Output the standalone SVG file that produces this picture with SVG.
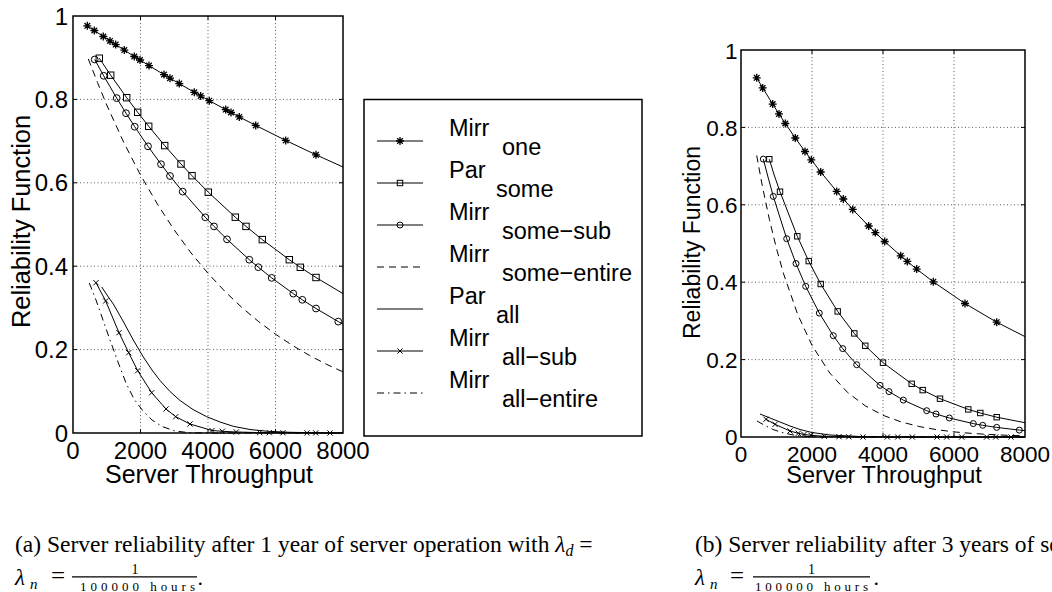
<svg xmlns="http://www.w3.org/2000/svg" width="1052" height="592" viewBox="0 0 1052 592">
<style>
.ln{fill:none;stroke:#000;stroke-width:1}
.dash{stroke-dasharray:7 5}
.dd{stroke-dasharray:7 4 1.5 4}
.grid{stroke:#333;stroke-width:0.8;stroke-dasharray:1 2.5;fill:none}
.box{fill:none;stroke:#000;stroke-width:1.5}
.tk{stroke:#000;stroke-width:1}
.t{font-family:"Liberation Sans",Arial,sans-serif;fill:#000}
.s{font-family:"Liberation Serif","Times New Roman",serif;fill:#000}
</style>
<defs>
<path id="mS" d="M-4,0H4M0,-4V4M-2.8,-2.8L2.8,2.8M-2.8,2.8L2.8,-2.8" fill="none" stroke="#000" stroke-width="1.3"/>
<rect id="mQ" x="-3.2" y="-3.2" width="6.4" height="6.4" fill="none" stroke="#000" stroke-width="1"/>
<circle id="mO" r="3.4" fill="none" stroke="#000" stroke-width="1"/>
<path id="mX" d="M-2.6,-2.6L2.6,2.6M-2.6,2.6L2.6,-2.6" fill="none" stroke="#000" stroke-width="1"/>
<rect id="mQs" x="-2.7" y="-2.7" width="5.4" height="5.4" fill="none" stroke="#000" stroke-width="1"/>
<circle id="mOs" r="3" fill="none" stroke="#000" stroke-width="1"/>
</defs>
<rect width="1052" height="592" fill="#fff"/>

<!-- ===== Plot (a) axes ===== -->
<g id="axes-a">
<path class="grid" d="M140.5,16V433M208,16V433M275.5,16V433M73,349.6H343M73,266.2H343M73,182.8H343M73,99.4H343"/>
<rect class="box" x="73" y="16" width="270" height="417"/>
<path class="tk" d="M140.5,433v-4M208,433v-4M275.5,433v-4M140.5,16v4M208,16v4M275.5,16v4M73,349.6h4M73,266.2h4M73,182.8h4M73,99.4h4M343,349.6h-4M343,266.2h-4M343,182.8h-4M343,99.4h-4"/>
<g class="t" font-size="24" text-anchor="end">
<text x="68" y="24.5">1</text>
<text x="68" y="107.9">0.8</text>
<text x="68" y="191.3">0.6</text>
<text x="68" y="274.7">0.4</text>
<text x="68" y="358.1">0.2</text>
<text x="68" y="441.5">0</text>
</g>
<g class="t" font-size="24" text-anchor="middle">
<text x="73" y="459">0</text>
<text x="140.5" y="459">2000</text>
<text x="208" y="459">4000</text>
<text x="275.5" y="459">6000</text>
<text x="343" y="459">8000</text>
<text x="209" y="483" font-size="25">Server Throughput</text>
<text transform="translate(30,221.5) rotate(-90)" x="0" y="0" font-size="25.4">Reliability Function</text>
</g>
</g>

<!-- ===== Plot (a) curves ===== -->
<g id="curves-a">
<polyline id="a-mirr-one" class="ln" points="87.3,25.8 94.3,30.5 103.3,36.5 110,40.9 115.7,44.6 124.3,50.1 134.3,56.5 140,60 149,65.6 164,74.6 170,78.2 179.3,83.6 194.3,92.3 200.7,95.9 209.3,100.7 225.7,109.6 231,112.5 239.3,116.9 255.7,125.4 285.7,140.4 316,154.8 343,167"/>
<g>
<use href="#mS" x="87.3" y="25.8"/><use href="#mS" x="94.3" y="30.5"/><use href="#mS" x="103.3" y="36.5"/><use href="#mS" x="110" y="40.9"/><use href="#mS" x="115.7" y="44.6"/><use href="#mS" x="124.3" y="50.1"/><use href="#mS" x="134.3" y="56.5"/><use href="#mS" x="140" y="60"/><use href="#mS" x="149" y="65.6"/><use href="#mS" x="164" y="74.6"/><use href="#mS" x="170" y="78.2"/><use href="#mS" x="179.3" y="83.6"/><use href="#mS" x="194.3" y="92.3"/><use href="#mS" x="200.7" y="95.9"/><use href="#mS" x="209.3" y="100.7"/><use href="#mS" x="225.7" y="109.6"/><use href="#mS" x="231" y="112.5"/><use href="#mS" x="239.3" y="116.9"/><use href="#mS" x="255.7" y="125.4"/><use href="#mS" x="285.7" y="140.4"/><use href="#mS" x="316" y="154.8"/>
</g>
<polyline id="a-par-some" class="ln" points="99.3,58.2 110.7,75.2 126.7,97.7 137.7,112.3 148.7,126.3 164.7,145.6 181,164 192,175.7 208.3,192.2 235.3,217.2 246,226.4 262.3,239.6 289.3,259.7 300.3,267.3 316,277.5 343,293.6"/>
<g>
<use href="#mQ" x="99.3" y="58.2"/><use href="#mQ" x="110.7" y="75.2"/><use href="#mQ" x="126.7" y="97.7"/><use href="#mQ" x="137.7" y="112.3"/><use href="#mQ" x="148.7" y="126.3"/><use href="#mQ" x="164.7" y="145.6"/><use href="#mQ" x="181" y="164"/><use href="#mQ" x="192" y="175.7"/><use href="#mQ" x="208.3" y="192.2"/><use href="#mQ" x="235.3" y="217.2"/><use href="#mQ" x="246" y="226.4"/><use href="#mQ" x="262.3" y="239.6"/><use href="#mQ" x="289.3" y="259.7"/><use href="#mQ" x="300.3" y="267.3"/><use href="#mQ" x="316" y="277.5"/>
</g>
<polyline id="a-mirr-some-sub" class="ln" points="94.7,59.5 103.7,75.8 116.7,98.1 126,113.2 134.7,126.7 148,146.3 161,164.2 170,176 182.7,191.6 205.3,217.3 214,226.4 227,239.3 249.3,259.7 258.3,267.2 271.7,277.9 293.3,293.6 302.3,299.8 316,308.5 338.3,321.6 343,324.1"/>
<g>
<use href="#mO" x="94.7" y="59.5"/><use href="#mO" x="103.7" y="75.8"/><use href="#mO" x="116.7" y="98.1"/><use href="#mO" x="126" y="113.2"/><use href="#mO" x="134.7" y="126.7"/><use href="#mO" x="148" y="146.3"/><use href="#mO" x="161" y="164.2"/><use href="#mO" x="170" y="176"/><use href="#mO" x="182.7" y="191.6"/><use href="#mO" x="205.3" y="217.3"/><use href="#mO" x="214" y="226.4"/><use href="#mO" x="227" y="239.3"/><use href="#mO" x="249.3" y="259.7"/><use href="#mO" x="258.3" y="267.2"/><use href="#mO" x="271.7" y="277.9"/><use href="#mO" x="293.3" y="293.6"/><use href="#mO" x="302.3" y="299.8"/><use href="#mO" x="316" y="308.5"/><use href="#mO" x="338.3" y="321.6"/>
</g>
<polyline id="a-mirr-some-entire" class="ln dash" points="88.3,58.9 97.5,82.5 106.75,105 123.6,142.1 140.5,175 157.4,204.1 174.25,230 191.1,253 208,273.3 224.9,291.4 241.75,307.4 258.6,321.6 275.5,334.2 292.4,345.4 309.25,355.3 326.1,364.1 343,371.9"/>
<polyline id="a-par-all" class="ln" points="101.7,287 107,295 113.3,304 123,321 133.3,340 143.3,357 152,370 160,380.5 170,391.5 180,400.5 193,409.5 206.7,416.7 220,422 233.3,426.3 250,429.5 266.7,431.2 290,432.3 320,432.8 343,433"/>
<polyline id="a-mirr-all-sub" class="ln" points="96,282.7 105.7,301 119,332.7 128.7,352.7 137.7,370.7 151.7,392.7 166,409 175.7,416.7 190,424 212,430.5 222.3,431.3 236.3,432 259.7,432.6 269.3,432.7 283,432.8 307,432.9 315.7,432.9 330,433 343,433"/>
<g>
<use href="#mX" x="96" y="282.7"/><use href="#mX" x="105.7" y="301"/><use href="#mX" x="119" y="332.7"/><use href="#mX" x="128.7" y="352.7"/><use href="#mX" x="137.7" y="370.7"/><use href="#mX" x="151.7" y="392.7"/><use href="#mX" x="166" y="409"/><use href="#mX" x="175.7" y="416.7"/><use href="#mX" x="190" y="424"/><use href="#mX" x="212" y="430.5"/><use href="#mX" x="222.3" y="431.3"/><use href="#mX" x="236.3" y="432"/><use href="#mX" x="259.7" y="432.6"/><use href="#mX" x="269.3" y="432.7"/><use href="#mX" x="283" y="432.8"/><use href="#mX" x="307" y="432.9"/><use href="#mX" x="315.7" y="432.9"/><use href="#mX" x="330" y="433"/>
</g>
<polyline id="a-mirr-all-entire" class="ln dd" points="89.3,283 96,300 103,320 110,340 118,362 126,383 134,399 143,411 152,420 162,426.5 175,431 190,432.8 210,433 343,433"/>
</g>

<!-- ===== Legend ===== -->
<g id="legend">
<rect x="364" y="99.5" width="278" height="336.5" fill="#fff" stroke="#000" stroke-width="1.5"/>
<g>
<path class="ln" d="M377,141H423M377,183H423M377,225H423M377,309H423M377,351H423"/>
<path class="ln dash" d="M377,267H423"/>
<path class="ln dd" d="M377,393H423"/>
<use href="#mS" x="400" y="141"/>
<use href="#mQs" x="400" y="183"/>
<use href="#mOs" x="400" y="225"/>
<use href="#mX" x="400" y="351"/>
</g>
<g class="t" font-size="23.5">
<text x="449" y="135.7">Mirr</text>
<text x="502" y="155.3">one</text>
<text x="449" y="177.7">Par</text>
<text x="496" y="197.3">some</text>
<text x="449" y="219.7">Mirr</text>
<text x="502" y="239.3">some−sub</text>
<text x="449" y="261.7">Mirr</text>
<text x="502" y="281.3">some−entire</text>
<text x="449" y="303.7">Par</text>
<text x="496" y="323.3">all</text>
<text x="449" y="345.7">Mirr</text>
<text x="502" y="365.3">all−sub</text>
<text x="449" y="387.7">Mirr</text>
<text x="502" y="407.3">all−entire</text>
</g>
</g>

<!-- ===== Plot (b) axes ===== -->
<g id="axes-b">
<path class="grid" d="M812,50V437M883,50V437M954,50V437M741,359.6H1025M741,282.2H1025M741,204.8H1025M741,127.4H1025"/>
<rect class="box" x="741" y="50" width="284" height="387"/>
<path class="tk" d="M812,437v-4M883,437v-4M954,437v-4M812,50v4M883,50v4M954,50v4M741,359.6h4M741,282.2h4M741,204.8h4M741,127.4h4M1025,359.6h-4M1025,282.2h-4M1025,204.8h-4M1025,127.4h-4"/>
<g class="t" font-size="22.5" text-anchor="end">
<text x="737.5" y="58.5">1</text>
<text x="737.5" y="135.6">0.8</text>
<text x="737.5" y="213">0.6</text>
<text x="737.5" y="290.4">0.4</text>
<text x="737.5" y="367.8">0.2</text>
<text x="737.5" y="444.5">0</text>
</g>
<g class="t" font-size="22.5" text-anchor="middle">
<text x="741" y="462">0</text>
<text x="812" y="462">2000</text>
<text x="883" y="462">4000</text>
<text x="954" y="462">6000</text>
<text x="1025" y="462">8000</text>
<text x="884" y="482.5" font-size="23.5">Server Throughput</text>
<text transform="translate(700,242.5) rotate(-90)" x="0" y="0" font-size="23">Reliability Function</text>
</g>
</g>

<!-- ===== Plot (b) curves ===== -->
<g id="curves-b">
<polyline id="b-mirr-one" class="ln" points="756.7,77.8 762.7,87.9 772.7,104.1 779,113.9 785.3,123.5 795.3,138 805,151.5 811.3,159.9 820.7,172 836.7,191.4 843.3,199 852.7,209.4 868.7,226 875.3,232.6 884.7,241.5 900.7,255.8 907.3,261.4 916.7,269.1 933.3,281.8 965,303.5 996.7,322.2 1025,336.6"/>
<g>
<use href="#mS" x="756.7" y="77.8"/><use href="#mS" x="762.7" y="87.9"/><use href="#mS" x="772.7" y="104.1"/><use href="#mS" x="779" y="113.9"/><use href="#mS" x="785.3" y="123.5"/><use href="#mS" x="795.3" y="138"/><use href="#mS" x="805" y="151.5"/><use href="#mS" x="811.3" y="159.9"/><use href="#mS" x="820.7" y="172"/><use href="#mS" x="836.7" y="191.4"/><use href="#mS" x="843.3" y="199"/><use href="#mS" x="852.7" y="209.4"/><use href="#mS" x="868.7" y="226"/><use href="#mS" x="875.3" y="232.6"/><use href="#mS" x="884.7" y="241.5"/><use href="#mS" x="900.7" y="255.8"/><use href="#mS" x="907.3" y="261.4"/><use href="#mS" x="916.7" y="269.1"/><use href="#mS" x="933.3" y="281.8"/><use href="#mS" x="965" y="303.5"/><use href="#mS" x="996.7" y="322.2"/>
</g>
<polyline id="b-par-some" class="ln" points="769.3,159.2 774.5,176 780,191.7 797.3,236.3 808.7,261.1 820.7,284 837.7,311.4 854.3,333.4 865.3,345.8 883,362.7 911.7,383.8 922.7,390.1 940,398.7 968.3,409.4 980.3,413 996.7,417.2 1025,422.7"/>
<g>
<use href="#mQs" x="769.3" y="159.2"/><use href="#mQs" x="780" y="191.7"/><use href="#mQs" x="797.3" y="236.3"/><use href="#mQs" x="808.7" y="261.1"/><use href="#mQs" x="820.7" y="284"/><use href="#mQs" x="837.7" y="311.4"/><use href="#mQs" x="854.3" y="333.4"/><use href="#mQs" x="865.3" y="345.8"/><use href="#mQs" x="883" y="362.7"/><use href="#mQs" x="911.7" y="383.8"/><use href="#mQs" x="922.7" y="390.1"/><use href="#mQs" x="940" y="398.7"/><use href="#mQs" x="968.3" y="409.4"/><use href="#mQs" x="980.3" y="413"/><use href="#mQs" x="996.7" y="417.2"/>
</g>
<polyline id="b-mirr-some-sub" class="ln" points="763.3,159.1 768,177 773.3,196.4 786.7,238.7 796,263.5 805.7,286.3 819.3,313.1 833.3,335.7 842.7,348.6 856.7,364.7 880,385.4 889,391.6 903.3,400.1 926.7,410.7 936,414 949.3,418 973.3,423.6 982.7,425.3 996.7,427.4 1019.3,430.1 1025,430.6"/>
<g>
<use href="#mOs" x="763.3" y="159.1"/><use href="#mOs" x="773.3" y="196.4"/><use href="#mOs" x="786.7" y="238.7"/><use href="#mOs" x="796" y="263.5"/><use href="#mOs" x="805.7" y="286.3"/><use href="#mOs" x="819.3" y="313.1"/><use href="#mOs" x="833.3" y="335.7"/><use href="#mOs" x="842.7" y="348.6"/><use href="#mOs" x="856.7" y="364.7"/><use href="#mOs" x="880" y="385.4"/><use href="#mOs" x="889" y="391.6"/><use href="#mOs" x="903.3" y="400.1"/><use href="#mOs" x="926.7" y="410.7"/><use href="#mOs" x="936" y="414"/><use href="#mOs" x="949.3" y="418"/><use href="#mOs" x="973.3" y="423.6"/><use href="#mOs" x="982.7" y="425.3"/><use href="#mOs" x="996.7" y="427.4"/><use href="#mOs" x="1019.3" y="430.1"/>
</g>
<polyline id="b-mirr-some-entire" class="ln dash" points="756.7,155.5 762.3,185.8 769.4,219.5 776.5,248.6 783.6,273.9 797.8,314.7 812,345.3 829.75,373 847.5,392.4 865.25,405.8 883,415.3 900.75,421.8 918.5,426.4 936.25,429.6 954,431.9 971.75,433.4 989.5,434.5 1007.25,435.3 1025,435.8"/>
<polyline id="b-par-all" class="ln" points="760,414 770,418 780,422 790,426 800,429.5 812,432.5 830,435 860,436.5 900,437 1025,437"/>
<polyline id="b-mirr-all-sub" class="ln" points="766,419.3 775,424.3 790,431 798.3,433.3 804,434.5 811,435.3 824.3,436.3 839,436.7 848.7,436.8 863,437 1025,437"/>
<g>
<use href="#mX" x="766" y="419.3"/><use href="#mX" x="775" y="424.3"/><use href="#mX" x="790" y="431"/><use href="#mX" x="798.3" y="433.3"/><use href="#mX" x="804" y="434.5"/><use href="#mX" x="811" y="435.3"/><use href="#mX" x="824.3" y="436.3"/><use href="#mX" x="839" y="436.7"/><use href="#mX" x="848.7" y="436.8"/><use href="#mX" x="863" y="437"/><use href="#mX" x="887.3" y="437"/><use href="#mX" x="897.7" y="437"/><use href="#mX" x="912.3" y="437"/><use href="#mX" x="937" y="437"/><use href="#mX" x="946.7" y="437"/><use href="#mX" x="961.7" y="437"/><use href="#mX" x="986.7" y="437"/><use href="#mX" x="995.7" y="437"/><use href="#mX" x="1011" y="437"/>
</g>
<polyline id="b-mirr-all-entire" class="ln dd" points="757,421 765,425.5 773,429.5 782,432.5 792,434.8 805,436.3 820,437 1025,437"/>
</g>

<!-- ===== Captions ===== -->
<g id="caption-a" class="s">
<text x="15" y="552" font-size="23.5">(a) Server reliability after 1 year of server operation with <tspan font-style="italic">λ</tspan><tspan font-style="italic" font-size="16" dy="4">d</tspan><tspan dy="-4"> =</tspan></text>
<text x="15" y="585" font-size="23" font-style="italic">λ</text>
<text x="30" y="589" font-size="15" font-style="italic">n</text>
<text x="51" y="583.5" font-size="25">=</text>
<text x="131.5" y="574" font-size="14">1</text>
<line x1="72" y1="576.8" x2="197" y2="576.8" stroke="#000" stroke-width="1.2"/>
<text x="80" y="590.5" font-size="13" textLength="115" lengthAdjust="spacing">100000 hours</text>
<text x="197.5" y="585" font-size="22">.</text>
</g>
<g id="caption-b" class="s">
<text x="695" y="552" font-size="23.5">(b) Server reliability after 3 years of se</text>
<text x="695" y="585" font-size="23" font-style="italic">λ</text>
<text x="710" y="589" font-size="15" font-style="italic">n</text>
<text x="730" y="583.5" font-size="25">=</text>
<text x="808" y="574" font-size="14">1</text>
<line x1="753" y1="576.8" x2="870" y2="576.8" stroke="#000" stroke-width="1.2"/>
<text x="755" y="590.5" font-size="13" textLength="113" lengthAdjust="spacing">100000 hours</text>
<text x="873.5" y="585" font-size="22">.</text>
</g>
</svg>
